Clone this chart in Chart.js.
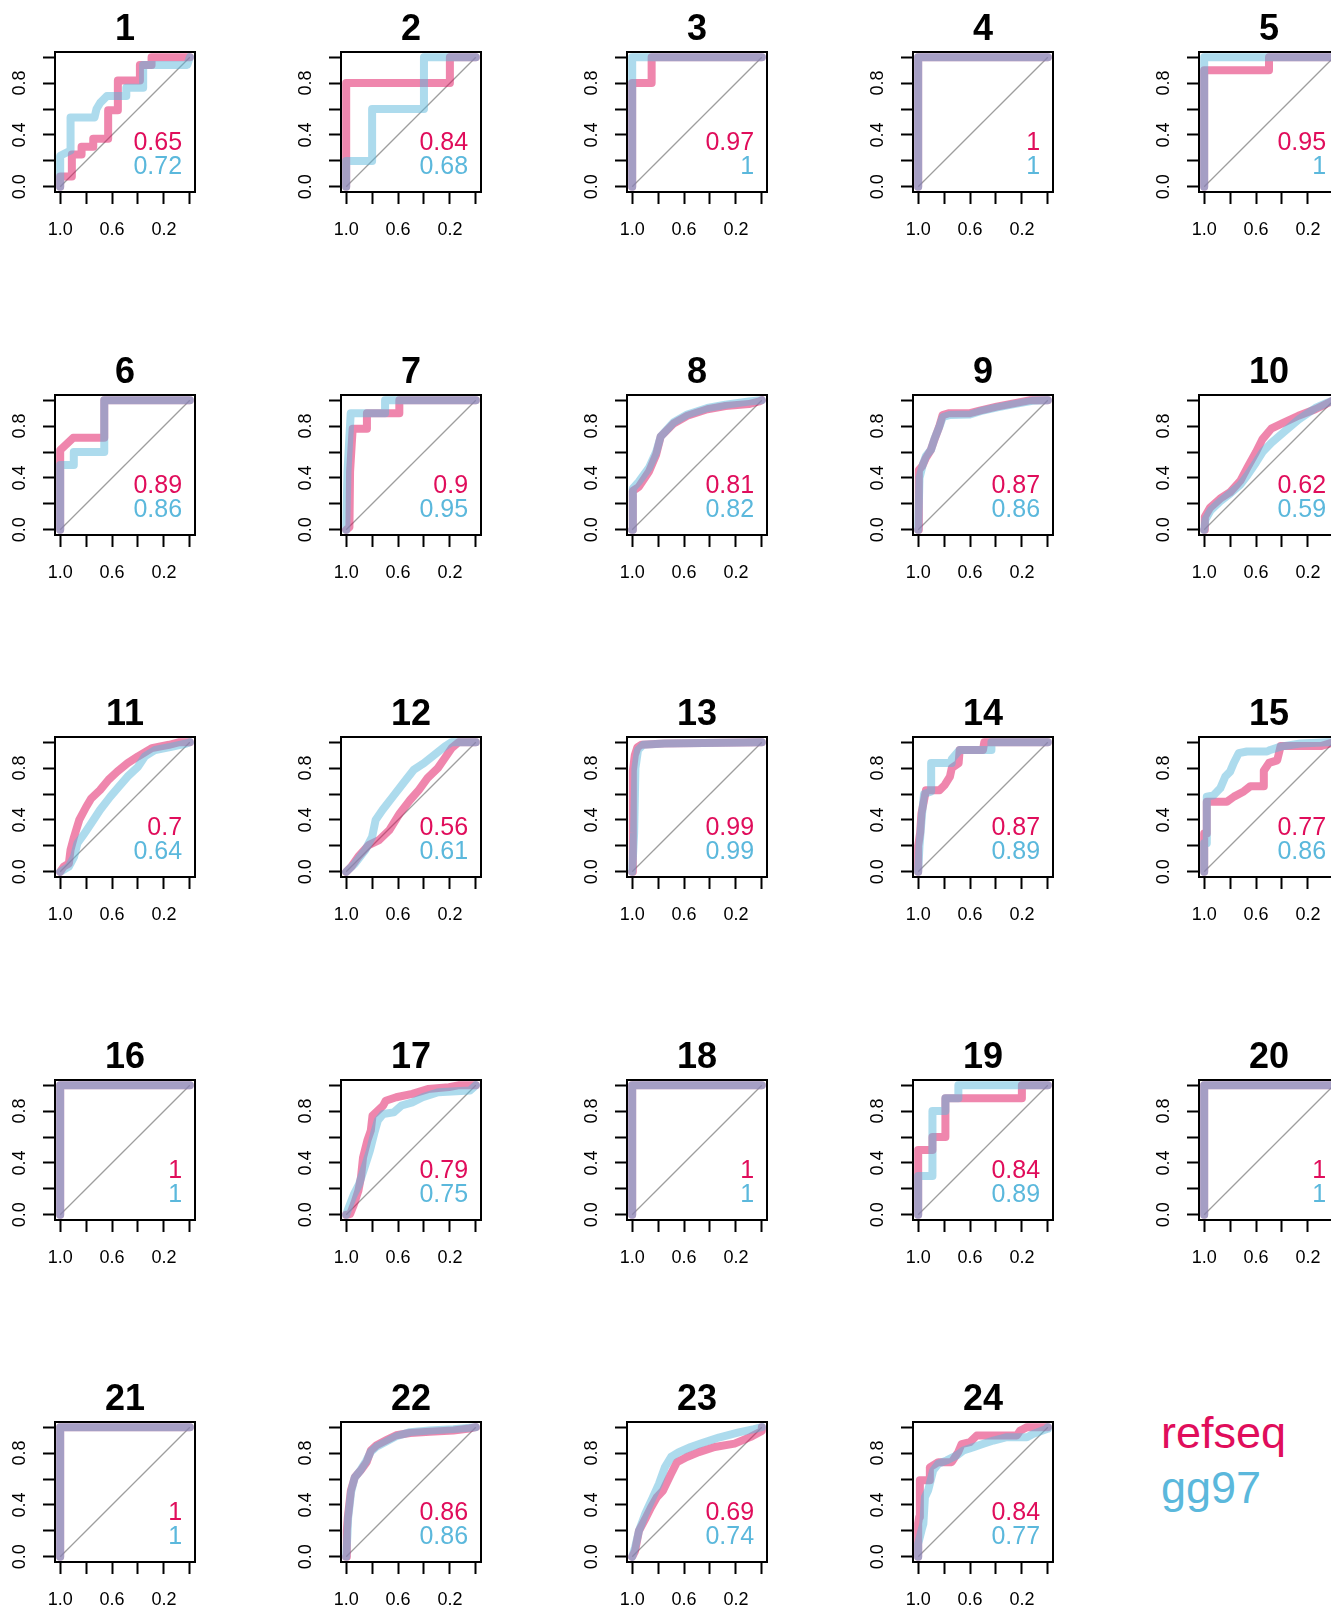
<!DOCTYPE html>
<html>
<head>
<meta charset="utf-8">
<script src="https://cdn.jsdelivr.net/npm/chart.js@4.4.1/dist/chart.umd.min.js"></script>
<style>
  html, body { margin: 0; padding: 0; background: #fff; width: 1331px; height: 1608px; overflow: hidden; position: relative; }
  canvas { position: absolute; }
  #legend { position: absolute; left: 1161px; top: 1405px; font: 45px 'Liberation Sans', Arial, sans-serif; line-height: 55px; white-space: nowrap; }
</style>
</head>
<body>
<div id="legend"><div style="color:#E00D5B">refseq</div><div style="color:#5BB8DC">gg97</div></div>
<script>
// panel titles and AUC labels
const panelIds = ['1','2','3','4','5','6','7','8','9','10','11','12','13','14','15','16','17','18','19','20','21','22','23','24'];
const aucRefseq = ['0.65','0.84','0.97','1','0.95','0.89','0.9','0.81','0.87','0.62','0.7','0.56','0.99','0.87','0.77','1','0.79','1','0.84','1','1','0.86','0.69','0.84'];
const aucGg97 = ['0.72','0.68','1','1','1','0.86','0.95','0.82','0.86','0.59','0.64','0.61','0.99','0.89','0.86','1','0.75','1','0.89','1','1','0.86','0.74','0.77'];

// axis ticks
const tickValues = [0, 0.2, 0.4, 0.6, 0.8, 1.0];
const xTickLabels = ['', '0.2', '', '0.6', '', '1.0'];
const yTickLabels = ['0.0', '', '0.4', '', '0.8', ''];

// ROC curves as [specificity, sensitivity]
const perfect = [[1,0],[1,1],[0,1]];
const diagonal = [[1,0],[0,1]];

const curvesRefseq = [
  [[1,0],[1,0.08],[0.91,0.08],[0.91,0.25],[0.835,0.25],[0.835,0.31],[0.745,0.31],[0.745,0.37],[0.63,0.37],[0.63,0.59],[0.555,0.59],[0.555,0.82],[0.385,0.82],[0.385,0.94],[0.295,0.94],[0.295,1],[0,1]],
  [[1,0],[1,0.8],[0.2,0.8],[0.2,1],[0,1]],
  [[1,0],[1,0.8],[0.85,0.8],[0.85,1],[0,1]],
  perfect,
  [[1,0],[1,0.9],[0.5,0.9],[0.5,1],[0,1]],
  [[1,0],[1,0.615],[0.9,0.71],[0.66,0.71],[0.66,1],[0,1]],
  [[1,0],[0.975,0.02],[0.97,0.45],[0.95,0.78],[0.84,0.78],[0.84,0.9],[0.59,0.9],[0.59,1],[0,1]],
  [[1,0],[0.995,0.3],[0.95,0.33],[0.87,0.45],[0.815,0.58],[0.78,0.72],[0.68,0.82],[0.575,0.88],[0.42,0.93],[0.28,0.955],[0.1,0.97],[0.02,0.99],[0,1]],
  [[1,0],[0.995,0.46],[0.97,0.49],[0.943,0.55],[0.903,0.615],[0.877,0.69],[0.838,0.795],[0.812,0.885],[0.76,0.9],[0.6,0.9],[0.525,0.92],[0.394,0.95],[0.264,0.975],[0.133,1],[0,1]],
  [[1,0],[0.995,0.1],[0.955,0.17],[0.877,0.24],[0.8,0.29],[0.72,0.38],[0.667,0.48],[0.6,0.6],[0.55,0.7],[0.483,0.78],[0.378,0.83],[0.273,0.88],[0.142,0.93],[0.04,0.98],[0,1]],
  [[1,0],[0.973,0.04],[0.933,0.064],[0.92,0.17],[0.893,0.27],[0.853,0.4],[0.8,0.5],[0.76,0.567],[0.693,0.63],[0.627,0.71],[0.56,0.773],[0.48,0.838],[0.4,0.89],[0.293,0.954],[0.16,0.98],[0.08,1],[0,1]],
  [[1,0],[0.96,0.04],[0.907,0.116],[0.827,0.206],[0.747,0.245],[0.667,0.322],[0.587,0.451],[0.507,0.554],[0.44,0.631],[0.373,0.722],[0.293,0.8],[0.24,0.876],[0.187,0.954],[0.133,1],[0,1]],
  [[1,0],[0.995,0.78],[0.98,0.9],[0.96,0.96],[0.93,0.98],[0.75,0.99],[0,1]],
  [[1,0],[1,0.2],[0.985,0.3],[0.975,0.45],[0.955,0.55],[0.94,0.63],[0.835,0.63],[0.795,0.67],[0.755,0.735],[0.741,0.8],[0.688,0.838],[0.68,0.94],[0.5,0.94],[0.49,1],[0,1]],
  [[1,0],[1,0.296],[0.98,0.296],[0.98,0.54],[0.825,0.54],[0.77,0.58],[0.695,0.62],[0.644,0.66],[0.54,0.66],[0.54,0.78],[0.5,0.84],[0.437,0.86],[0.41,0.97],[0.1,0.97],[0,1]],
  perfect,
  [[1,0],[0.97,0.005],[0.94,0.082],[0.906,0.186],[0.886,0.289],[0.87,0.443],[0.837,0.572],[0.81,0.65],[0.797,0.765],[0.756,0.804],[0.715,0.843],[0.695,0.88],[0.614,0.907],[0.49,0.933],[0.37,0.97],[0.207,0.985],[0.126,1],[0,1]],
  perfect,
  [[1,0],[1,0.5],[0.89,0.5],[0.89,0.6],[0.79,0.6],[0.79,0.9],[0.2,0.9],[0.2,1],[0,1]],
  perfect,
  perfect,
  [[1,0],[0.995,0.2],[0.988,0.3],[0.964,0.51],[0.933,0.614],[0.888,0.666],[0.842,0.73],[0.81,0.82],[0.766,0.86],[0.69,0.9],[0.614,0.938],[0.508,0.955],[0.356,0.965],[0.173,0.975],[0.05,0.99],[0,1]],
  [[1,0],[0.978,0.044],[0.948,0.2],[0.9,0.29],[0.855,0.38],[0.81,0.46],[0.763,0.51],[0.7,0.64],[0.655,0.73],[0.578,0.77],[0.486,0.808],[0.363,0.847],[0.21,0.873],[0.086,0.925],[0,0.97],[0,1]],
  [[1,0],[1,0.256],[0.992,0.308],[0.987,0.59],[0.91,0.59],[0.91,0.69],[0.845,0.73],[0.742,0.73],[0.69,0.81],[0.665,0.87],[0.6,0.885],[0.548,0.936],[0.239,0.936],[0.213,0.974],[0.16,1],[0,1]]
];

const curvesGg97 = [
  [[1,0],[1,0.24],[0.92,0.28],[0.92,0.535],[0.735,0.535],[0.72,0.6],[0.69,0.65],[0.64,0.7],[0.49,0.7],[0.49,0.765],[0.36,0.765],[0.36,0.94],[0.02,0.94],[0,1]],
  [[1,0],[1,0.2],[0.8,0.2],[0.8,0.6],[0.4,0.6],[0.4,1],[0,1]],
  perfect,
  perfect,
  perfect,
  [[1,0],[1,0.5],[0.895,0.5],[0.895,0.6],[0.66,0.6],[0.66,1],[0,1]],
  [[1,0],[0.99,0.45],[0.965,0.9],[0.7,0.9],[0.7,1],[0,1]],
  [[1,0],[0.995,0.32],[0.95,0.37],[0.87,0.48],[0.815,0.6],[0.78,0.72],[0.68,0.83],[0.575,0.89],[0.42,0.94],[0.28,0.965],[0.1,0.99],[0,1]],
  [[1,0],[0.99,0.4],[0.965,0.5],[0.94,0.57],[0.9,0.62],[0.875,0.7],[0.835,0.8],[0.81,0.87],[0.76,0.885],[0.6,0.89],[0.52,0.915],[0.39,0.945],[0.26,0.97],[0.12,0.995],[0,1]],
  [[1,0],[0.99,0.08],[0.95,0.15],[0.877,0.22],[0.8,0.28],[0.72,0.35],[0.667,0.42],[0.6,0.52],[0.55,0.6],[0.483,0.67],[0.378,0.76],[0.273,0.85],[0.142,0.94],[0.05,0.98],[0,1]],
  [[1,0],[0.933,0.04],[0.893,0.116],[0.867,0.22],[0.813,0.296],[0.76,0.374],[0.693,0.477],[0.613,0.58],[0.547,0.657],[0.48,0.735],[0.4,0.81],[0.347,0.89],[0.267,0.94],[0.133,0.967],[0.027,0.99],[0,1]],
  [[1,0],[0.933,0.064],[0.853,0.168],[0.8,0.27],[0.773,0.4],[0.72,0.477],[0.64,0.58],[0.56,0.683],[0.48,0.786],[0.4,0.838],[0.32,0.902],[0.24,0.966],[0.187,1],[0,1]],
  [[1,0],[0.985,0.3],[0.975,0.8],[0.955,0.94],[0.915,0.98],[0.75,0.99],[0,1]],
  [[1,0],[0.99,0.2],[0.97,0.45],[0.955,0.6],[0.9,0.62],[0.9,0.84],[0.741,0.84],[0.741,0.87],[0.68,0.94],[0.435,0.94],[0.435,1],[0,1]],
  [[1,0],[1,0.22],[0.98,0.22],[0.98,0.58],[0.928,0.59],[0.876,0.644],[0.837,0.735],[0.8,0.773],[0.773,0.838],[0.734,0.915],[0.67,0.928],[0.515,0.928],[0.49,0.94],[0.41,0.966],[0.257,0.99],[0.05,1],[0,1]],
  perfect,
  [[1,0],[0.98,0.057],[0.94,0.16],[0.9,0.237],[0.858,0.366],[0.817,0.495],[0.785,0.624],[0.756,0.727],[0.715,0.778],[0.634,0.79],[0.573,0.843],[0.49,0.868],[0.41,0.907],[0.29,0.946],[0.045,0.959],[0,1]],
  perfect,
  [[1,0],[1,0.3],[0.89,0.3],[0.89,0.8],[0.79,0.8],[0.79,0.9],[0.69,0.9],[0.69,1],[0,1]],
  perfect,
  perfect,
  [[1,0],[0.99,0.18],[0.985,0.3],[0.962,0.5],[0.935,0.61],[0.888,0.67],[0.845,0.74],[0.81,0.81],[0.766,0.85],[0.69,0.89],[0.614,0.93],[0.508,0.962],[0.356,0.975],[0.173,0.985],[0,1]],
  [[1,0],[0.978,0.07],[0.948,0.2],[0.9,0.33],[0.84,0.46],[0.794,0.562],[0.748,0.69],[0.7,0.77],[0.64,0.808],[0.548,0.847],[0.455,0.88],[0.332,0.92],[0.178,0.96],[0.06,0.985],[0,1]],
  [[1,0],[1,0.1],[0.974,0.205],[0.96,0.256],[0.948,0.46],[0.923,0.513],[0.884,0.667],[0.845,0.718],[0.78,0.744],[0.703,0.782],[0.652,0.82],[0.574,0.846],[0.497,0.872],[0.42,0.897],[0.316,0.923],[0.161,0.923],[0.11,0.95],[0.006,0.987],[0,1]]
];

const REF_TEXT = '#E00D5B';
const GG_TEXT = '#5BB8DC';
const REF_LINE = 'rgba(224, 13, 91, 0.5)';
const GG_LINE = 'rgba(91, 184, 220, 0.5)';

Chart.defaults.font.family = "'Liberation Sans', Arial, Helvetica, sans-serif";
Chart.defaults.color = '#000';

const toXY = pts => pts.map(p => ({ x: p[0], y: p[1] }));

// frame box and AUC values, drawn after the curves
const boxAndAuc = {
  id: 'boxAndAuc',
  afterDatasetsDraw(chart, args, opts) {
    const { ctx, chartArea: a, scales } = chart;
    ctx.save();
    ctx.strokeStyle = '#000';
    ctx.lineWidth = 2;
    ctx.strokeRect(a.left, a.top, a.right - a.left, a.bottom - a.top);
    ctx.font = "25px 'Liberation Sans', Arial, sans-serif";
    ctx.textAlign = 'right';
    ctx.textBaseline = 'middle';
    const x = scales.x.getPixelForValue(0.06);
    ctx.fillStyle = REF_TEXT;
    ctx.fillText(opts.ref, x, scales.y.getPixelForValue(0.335));
    ctx.fillStyle = GG_TEXT;
    ctx.fillText(opts.gg, x, scales.y.getPixelForValue(0.152));
    ctx.restore();
  }
};

function axisOptions(labels, isX) {
  return {
    type: 'linear',
    min: -0.04,
    max: 1.04,
    reverse: isX,
    afterBuildTicks: scale => { scale.ticks = tickValues.map(v => ({ value: v })); },
    afterFit: scale => { if (isX) scale.height = 68; else scale.width = 55; },
    grid: { drawOnChartArea: false, drawTicks: true, tickLength: 12, tickWidth: 2, tickColor: '#000' },
    border: { display: false },
    ticks: {
      autoSkip: false,
      font: { size: 18 },
      color: '#000',
      padding: isX ? 15 : 10.5,
      minRotation: isX ? 0 : 90,
      maxRotation: isX ? 0 : 90,
      crossAlign: isX ? 'near' : 'center',
      callback: value => {
        const k = tickValues.findIndex(v => Math.abs(v - value) < 1e-9);
        return k < 0 ? '' : labels[k];
      }
    }
  };
}

const lineStyle = { showLine: true, pointRadius: 0, borderWidth: 8, borderCapStyle: 'round', borderJoinStyle: 'round', tension: 0 };

panelIds.forEach((id, i) => {
  const col = i % 5, row = Math.floor(i / 5);
  const canvas = document.createElement('canvas');
  canvas.width = 230;
  canvas.height = 260;
  canvas.style.left = (col * 286) + 'px';
  canvas.style.top = Math.round(row * 342.5) + 'px';
  document.body.appendChild(canvas);

  new Chart(canvas.getContext('2d'), {
    type: 'scatter',
    data: {
      datasets: [
        Object.assign({ label: 'gg97', data: toXY(curvesGg97[i]), borderColor: GG_LINE, order: 1 }, lineStyle),
        Object.assign({ label: 'refseq', data: toXY(curvesRefseq[i]), borderColor: REF_LINE, order: 2 }, lineStyle),
        { label: 'identity', data: toXY(diagonal), showLine: true, pointRadius: 0, borderWidth: 1.3, borderColor: '#9E9E9E', order: 3 }
      ]
    },
    options: {
      responsive: false,
      animation: false,
      events: [],
      layout: { padding: { left: 0, top: 0, right: 35, bottom: 0 } },
      scales: {
        x: axisOptions(xTickLabels, true),
        y: axisOptions(yTickLabels, false)
      },
      plugins: {
        legend: { display: false },
        tooltip: { enabled: false },
        title: {
          display: true,
          text: id,
          fullSize: false,
          color: '#000',
          font: { size: 36, weight: 'bold', lineHeight: 1.2 },
          padding: { top: 8.8, bottom: 0 }
        },
        boxAndAuc: { ref: aucRefseq[i], gg: aucGg97[i] }
      }
    },
    plugins: [boxAndAuc]
  });
});
</script>
</body>
</html>
